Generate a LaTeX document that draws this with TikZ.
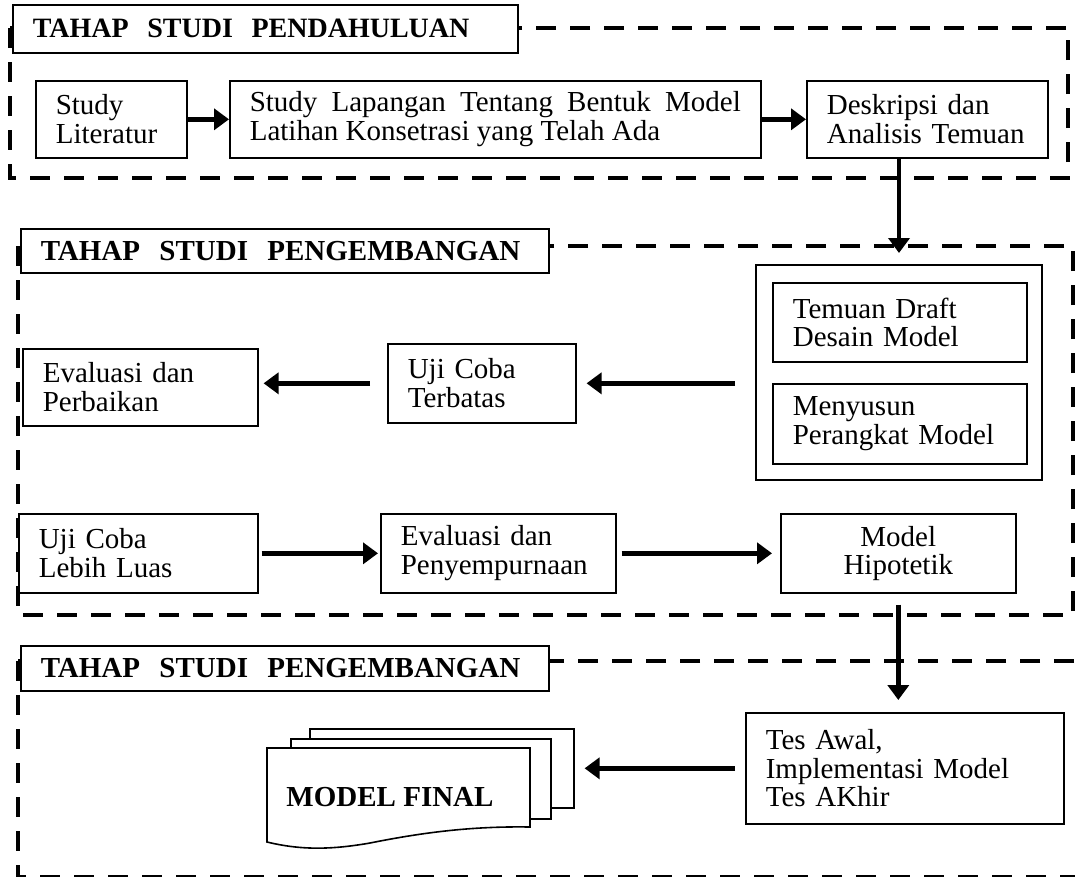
\documentclass[tikz,border=0pt]{standalone}
\usepackage{fontspec}
\setmainfont{Liberation Serif}
\usepackage{tikz}
\usetikzlibrary{arrows.meta}

\begin{document}
\begin{tikzpicture}[x=1pt,y=-1pt,
  kotak/.style={draw,line width=1.6pt,anchor=north west,align=left,inner xsep=20pt,inner ysep=0pt,font=\fontsize{29}{28.5}\selectfont},
  judul/.style={kotak,fill=white,font=\bfseries\fontsize{29}{28.5}\selectfont},
  halaman/.style={draw,line width=1.6pt,fill=white,anchor=north west},
  bingkai/.style={line width=3.5pt,dash pattern=on 20pt off 14pt},
  panah/.style={line width=4.5pt,-{Triangle[length=15pt,width=21pt]}}]
\useasboundingbox[fill=white] (0,0) rectangle (1075,876);

\draw[bingkai] (10,28) rectangle (1068,178);
\draw[bingkai] (18,246) rectangle (1073,615);
\draw[bingkai] (18,661) rectangle (1095,877);

\node[judul,font=\bfseries\fontsize{28}{28.5}\selectfont,text width=465pt,minimum height=48pt] (t1) at (12,4) {TAHAP\ \ STUDI\ \ PENDAHULUAN};
\node[judul,text width=488pt,minimum height=44pt] (t2) at (20,228) {TAHAP\ \ STUDI\ \ PENGEMBANGAN};
\node[judul,text width=488pt,minimum height=45pt] (t3) at (20,645) {TAHAP\ \ STUDI\ \ PENGEMBANGAN};

\node[kotak,text width=111pt,minimum height=77pt] (lit) at (35,80) {Study\\Literatur};
\node[kotak,align=justify,text width=491pt,minimum height=77pt] (lap) at (229,80) {Study Lapangan Tentang Bentuk Model\linebreak Latihan Konsetrasi yang Telah Ada};
\node[kotak,text width=201pt,minimum height=77pt] (desk) at (806,80) {Deskripsi dan\\Analisis Temuan};

\node[kotak,minimum width=286pt,minimum height=215pt] (wadah) at (755,264) {};
\node[kotak,text width=214pt,minimum height=79pt] (temuan) at (772,282) {Temuan Draft\\Desain Model};
\node[kotak,text width=214pt,minimum height=80pt] (susun) at (772,383) {Menyusun\\Perangkat Model};
\node[kotak,text width=148pt,minimum height=79pt] (terbatas) at (387,343) {Uji Coba\\Terbatas};
\node[kotak,text width=195pt,minimum height=77pt] (perbaikan) at (22,348) {Evaluasi dan\\Perbaikan};

\node[kotak,text width=199pt,minimum height=79pt] (luas) at (18,513) {Uji Coba\\Lebih Luas};
\node[kotak,text width=195pt,minimum height=79pt] (sempurna) at (380,513) {Evaluasi dan\\Penyempurnaan};
\node[kotak,align=center,text width=195pt,minimum height=79pt] (hipotetik) at (780,513) {Model\\Hipotetik};

\node[kotak,text width=278pt,minimum height=111pt] (tes) at (745,712) {Tes Awal,\\Implementasi Model\\Tes AKhir};

\node[halaman,minimum width=264pt,minimum height=79pt] (hal3) at (309,728) {};
\node[halaman,minimum width=260pt,minimum height=80pt] (hal2) at (290,738) {};
\draw[line width=1.6pt,fill=white] (267,748) -- (530,748) -- (530,827) .. controls (470,826) and (420,833) .. (370,843) .. controls (330,850) and (300,850) .. (267,842) -- cycle;
\node[font=\bfseries\fontsize{29}{28.5}\selectfont] (final) at (390,797) {MODEL FINAL};

\coordinate (a1) at (899,0);
\draw[panah] (lit) -- (lap);
\draw[panah] (lap) -- (desk);
\draw[panah,shorten >=11pt] (desk.south -| a1) -- (wadah.north -| a1);
\draw[panah,shorten <=20pt,shorten >=10pt] (wadah.west |- terbatas) -- (terbatas.east);
\draw[panah,shorten <=17pt,shorten >=5pt] (terbatas.west) -- (terbatas.west -| perbaikan.east);
\draw[panah,shorten <=3pt,shorten >=2pt] (luas) -- (sempurna);
\draw[panah,shorten <=5pt,shorten >=8pt] (sempurna) -- (hipotetik);
\draw[panah,shorten <=11pt,shorten >=12pt] (hipotetik.south) -- (hipotetik.south |- tes.north);
\draw[panah,shorten <=10pt,shorten >=10pt] (tes.west) -- (tes.west -| hal3.east);
\end{tikzpicture}
\end{document}
